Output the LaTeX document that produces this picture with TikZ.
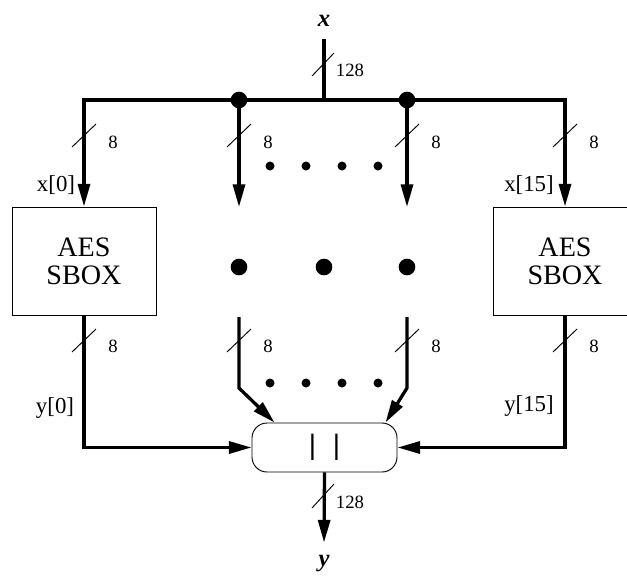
\documentclass[tikz,border=0pt]{standalone}
\usepackage{fontspec}
\setmainfont{Liberation Serif}
\setsansfont{Liberation Sans}
\usetikzlibrary{arrows.meta,positioning,calc}

\tikzset{
  bus/.style={line width=2.8pt},
  busarrow/.style={bus,-{Triangle[length=0.68cm,width=0.36cm]}},
  tick/.style={line width=0.8pt},
  wlabel/.style={font=\fontsize{16}{16}\selectfont,inner sep=0pt},
  sig/.style={font=\fontsize{19.5}{19.5}\selectfont,inner sep=0pt},
  io/.style={font=\fontsize{21}{21}\selectfont\bfseries\itshape,inner sep=0.36cm},
  sbox/.style={draw,line width=0.8pt,minimum width=4.32cm,minimum height=3.24cm,
    align=center,font=\fontsize{24}{24}\selectfont},
  concat/.style={draw,line width=0.8pt,rounded corners=0.45cm,minimum width=4.35cm,
    minimum height=1.47cm,font=\fontsize{24}{24}\sffamily},
  joint/.style={circle,fill,inner sep=0pt,minimum size=0.5cm},
  smalldot/.style={circle,fill,inner sep=0pt,minimum size=0.27cm}
}

\begin{document}
\begin{tikzpicture}[x=0.03cm,y=-0.03cm]
  \useasboundingbox (0,0) rectangle (627,578);

  % input and output
  \node[io] (xin) at (324,21) {x};
  \node[io] (yout) at (324,563) {y};
  \coordinate (xtee) at (324,100);

  % sboxes and concatenation
  \node[sbox] (sbox0) at (84,261) {AES\\SBOX};
  \node[sbox] (sbox15) at (565,261) {AES\\SBOX};
  \node[concat] (cat) at (324.5,447.5) {|\hspace{0.5cm}|};

  % input bus
  \draw[bus] (xin) -- (xtee);
  \draw[busarrow] (xtee) -| (sbox0.north);
  \draw[busarrow] (xtee) -| (sbox15.north);
  \node[joint] (j1) at (239,100) {};
  \node[joint] (j2) at (407,100) {};
  \coordinate (m1end) at (239,207);
  \coordinate (m2end) at (407,207);
  \draw[busarrow] (j1.center) -- (m1end);
  \draw[busarrow] (j2.center) -- (m2end);

  % output bus
  \coordinate (m1top) at (239,317);
  \coordinate (m1bend) at (239,388);
  \coordinate (m2top) at (407,317);
  \coordinate (m2bend) at (407,388);
  \draw[busarrow] (sbox0.south) |- (cat.west);
  \draw[busarrow] (sbox15.south) |- (cat.east);
  \draw[busarrow] (m1top) -- (m1bend) -- ($(cat.north west)+(23,0)$);
  \draw[busarrow] (m2top) -- (m2bend) -- ($(cat.north east)+(-12,0)$);
  \draw[busarrow] (cat.south) -- (yout.north);

  % dots
  \foreach \i/\x in {1/270,2/306,3/342,4/378} {
    \node[smalldot] (ta\i) at (\x,166) {};
    \node[smalldot] (tb\i) at (\x,383) {};
  }
  \foreach \i/\x in {1/239,2/324,3/407}
    \node[joint] (d\i) at (\x,267) {};

  % bus widths
  \draw[tick] (312,76) -- ++(22,-23);
  \node[wlabel] (win) at (350,70) {128};
  \draw[tick] (312,508) -- ++(22,-24);
  \node[wlabel] (wout) at (350,502) {128};
  \foreach \i/\x in {0/84,1/239,2/407,3/565} {
    \draw[tick] (\x-12,147) -- ++(24,-23);
    \node[wlabel] (wa\i) at (\x+29,142) {8};
    \draw[tick] (\x-12,352) -- ++(24,-23);
    \node[wlabel] (wb\i) at (\x+29,346) {8};
  }

  % signal names
  \node[sig] (lx0) at (56,185) {x[0]};
  \node[sig] (lx15) at (529,185) {x[15]};
  \node[sig] (ly0) at (55,408) {y[0]};
  \node[sig] (ly15) at (529,406) {y[15]};
\end{tikzpicture}
\end{document}
